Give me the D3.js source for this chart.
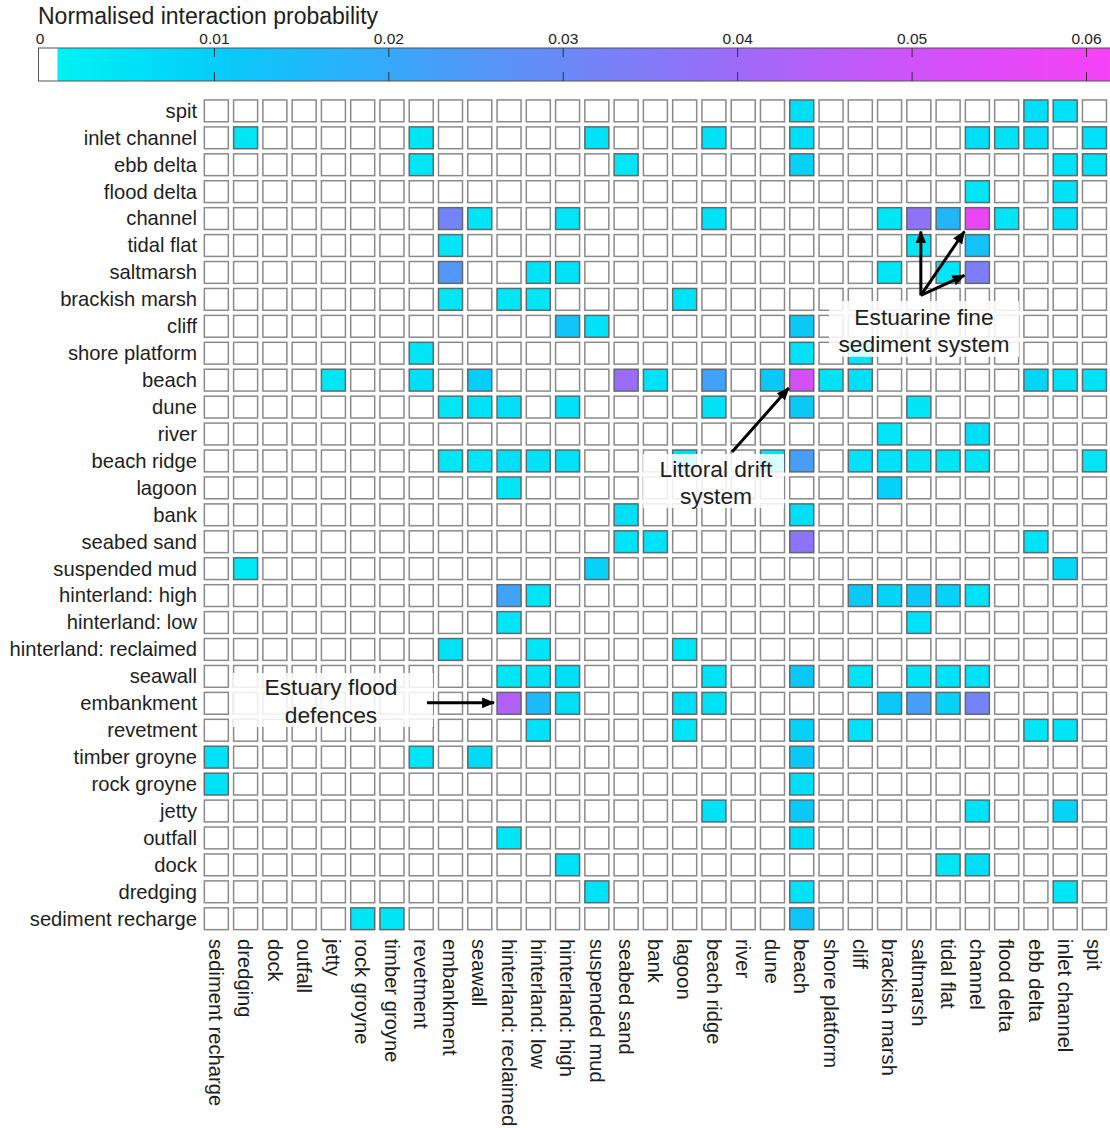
<!DOCTYPE html>
<html><head><meta charset="utf-8">
<script src="https://cdn.jsdelivr.net/npm/d3@7"></script>
<style>
body{margin:0;background:#fff;}
text{font-family:"Liberation Sans", Arial, Helvetica, sans-serif;fill:#1e1e1e;}
</style>
</head><body>
<svg id="chart" width="1110" height="1128"></svg>
<script>
// ---- data ----
const rowLabels = ["spit","inlet channel","ebb delta","flood delta","channel","tidal flat","saltmarsh",
  "brackish marsh","cliff","shore platform","beach","dune","river","beach ridge","lagoon","bank",
  "seabed sand","suspended mud","hinterland: high","hinterland: low","hinterland: reclaimed","seawall",
  "embankment","revetment","timber groyne","rock groyne","jetty","outfall","dock","dredging","sediment recharge"];
const colLabels = rowLabels.slice().reverse();
const colorTicks = [0, 0.01, 0.02, 0.03, 0.04, 0.05, 0.06];
const colorTickLabels = ["0","0.01","0.02","0.03","0.04","0.05","0.06"];
const colorDomain = [0.001,0.005,0.01,0.015,0.02,0.025,0.03,0.035,0.04,0.045,0.05,0.055,0.06,0.0615];
const colorRange = ["#00f2f4","#00e2f7","#06cdf9","#1cbafa","#36a8fa","#5298f9","#6a89f8","#8479f8","#9e6af8","#b85ef8","#cf52f8","#e249f8","#f243f8","#f642f8"];

// [row, column, normalised interaction probability]
const interactions = [
  ["spit","beach",0.006],["spit","ebb delta",0.006],["spit","inlet channel",0.005],
  ["inlet channel","dredging",0.004],["inlet channel","revetment",0.004],["inlet channel","suspended mud",0.005],
  ["inlet channel","beach ridge",0.005],["inlet channel","beach",0.006],["inlet channel","channel",0.006],
  ["inlet channel","flood delta",0.005],["inlet channel","ebb delta",0.006],["inlet channel","spit",0.005],
  ["ebb delta","revetment",0.004],["ebb delta","seabed sand",0.004],["ebb delta","beach",0.009],
  ["ebb delta","inlet channel",0.005],["ebb delta","spit",0.005],
  ["flood delta","channel",0.004],["flood delta","inlet channel",0.005],
  ["channel","embankment",0.032],["channel","seawall",0.004],["channel","hinterland: high",0.004],
  ["channel","beach ridge",0.005],["channel","brackish marsh",0.004],["channel","saltmarsh",0.037],
  ["channel","tidal flat",0.016],["channel","channel",0.058],["channel","flood delta",0.004],["channel","inlet channel",0.005],
  ["tidal flat","embankment",0.004],["tidal flat","saltmarsh",0.004],["tidal flat","channel",0.013],
  ["saltmarsh","embankment",0.025],["saltmarsh","hinterland: low",0.005],["saltmarsh","hinterland: high",0.005],
  ["saltmarsh","brackish marsh",0.004],["saltmarsh","tidal flat",0.004],["saltmarsh","channel",0.034],
  ["brackish marsh","embankment",0.004],["brackish marsh","hinterland: reclaimed",0.004],
  ["brackish marsh","hinterland: low",0.004],["brackish marsh","lagoon",0.005],
  ["cliff","hinterland: high",0.012],["cliff","suspended mud",0.005],["cliff","beach",0.011],
  ["shore platform","revetment",0.004],["shore platform","beach",0.005],["shore platform","cliff",0.004],
  ["beach","jetty",0.004],["beach","revetment",0.006],["beach","seawall",0.010],["beach","seabed sand",0.039],
  ["beach","bank",0.005],["beach","beach ridge",0.022],["beach","dune",0.011],["beach","beach",0.051],
  ["beach","shore platform",0.005],["beach","cliff",0.006],["beach","ebb delta",0.008],
  ["beach","inlet channel",0.005],["beach","spit",0.005],
  ["dune","embankment",0.004],["dune","seawall",0.005],["dune","hinterland: reclaimed",0.006],
  ["dune","hinterland: high",0.005],["dune","beach ridge",0.005],["dune","beach",0.011],["dune","saltmarsh",0.004],
  ["river","brackish marsh",0.004],["river","channel",0.006],
  ["beach ridge","embankment",0.004],["beach ridge","seawall",0.004],["beach ridge","hinterland: reclaimed",0.006],
  ["beach ridge","hinterland: low",0.005],["beach ridge","hinterland: high",0.005],["beach ridge","lagoon",0.006],
  ["beach ridge","dune",0.004],["beach ridge","beach",0.023],["beach ridge","cliff",0.005],
  ["beach ridge","brackish marsh",0.005],["beach ridge","saltmarsh",0.004],["beach ridge","tidal flat",0.004],
  ["beach ridge","channel",0.004],["beach ridge","spit",0.004],
  ["lagoon","hinterland: reclaimed",0.004],["lagoon","brackish marsh",0.009],
  ["bank","seabed sand",0.006],["bank","beach",0.006],
  ["seabed sand","seabed sand",0.005],["seabed sand","bank",0.005],["seabed sand","beach",0.037],["seabed sand","ebb delta",0.005],
  ["suspended mud","dredging",0.003],["suspended mud","suspended mud",0.009],["suspended mud","inlet channel",0.007],
  ["hinterland: high","hinterland: reclaimed",0.022],["hinterland: high","hinterland: low",0.004],
  ["hinterland: high","cliff",0.011],["hinterland: high","brackish marsh",0.008],["hinterland: high","saltmarsh",0.011],
  ["hinterland: high","tidal flat",0.009],["hinterland: high","channel",0.005],
  ["hinterland: low","hinterland: reclaimed",0.004],["hinterland: low","saltmarsh",0.005],
  ["hinterland: reclaimed","embankment",0.005],["hinterland: reclaimed","hinterland: low",0.004],["hinterland: reclaimed","lagoon",0.004],
  ["seawall","hinterland: reclaimed",0.004],["seawall","hinterland: low",0.005],["seawall","hinterland: high",0.006],
  ["seawall","beach ridge",0.005],["seawall","beach",0.011],["seawall","cliff",0.005],["seawall","saltmarsh",0.005],
  ["seawall","tidal flat",0.005],["seawall","channel",0.005],
  ["embankment","hinterland: reclaimed",0.044],["embankment","hinterland: low",0.015],["embankment","hinterland: high",0.006],
  ["embankment","lagoon",0.006],["embankment","beach ridge",0.005],["embankment","brackish marsh",0.011],
  ["embankment","saltmarsh",0.023],["embankment","tidal flat",0.009],["embankment","channel",0.032],
  ["revetment","hinterland: low",0.005],["revetment","lagoon",0.004],["revetment","beach",0.009],
  ["revetment","cliff",0.005],["revetment","ebb delta",0.004],["revetment","inlet channel",0.004],
  ["timber groyne","sediment recharge",0.005],["timber groyne","revetment",0.004],["timber groyne","seawall",0.007],["timber groyne","beach",0.011],
  ["rock groyne","sediment recharge",0.005],["rock groyne","beach",0.006],
  ["jetty","beach ridge",0.005],["jetty","beach",0.011],["jetty","channel",0.005],["jetty","inlet channel",0.008],
  ["outfall","hinterland: reclaimed",0.004],["outfall","beach",0.006],
  ["dock","hinterland: high",0.005],["dock","tidal flat",0.004],["dock","channel",0.006],
  ["dredging","suspended mud",0.005],["dredging","beach",0.005],["dredging","inlet channel",0.004],
  ["sediment recharge","rock groyne",0.004],["sediment recharge","timber groyne",0.004],["sediment recharge","beach",0.012]
];
const title = "Normalised interaction probability";
const noteFine = ["Estuarine fine","sediment system"];
const noteDrift = ["Littoral drift","system"];
const noteFlood = ["Estuary flood","defences"];

// ---- drawing ----
const svg = d3.select("#chart");
const W = 1110;
const x = d3.scaleBand().domain(colLabels).range([201.7, 1109.1]).paddingInner(0.18).paddingOuter(0.09);
const y = d3.scaleBand().domain(rowLabels).range([97.4, 932.2]).paddingInner(0.19).paddingOuter(0.095);
const color = d3.scaleLinear().domain(colorDomain).range(colorRange).clamp(true);
const fillFor = v => (v == null || v < 0.001) ? "#ffffff" : color(v);

const lookup = new Map(interactions.map(d => [d[0] + "|" + d[1], d[2]]));
const cells = [];
rowLabels.forEach(r => colLabels.forEach(c => cells.push({r, c, v: lookup.get(r + "|" + c)})));

svg.append("g").selectAll("rect").data(cells).join("rect")
  .attr("x", d => x(d.c)).attr("y", d => y(d.r))
  .attr("width", x.bandwidth()).attr("height", y.bandwidth())
  .attr("fill", d => fillFor(d.v))
  .attr("stroke", d => d.v ? "#5e6a6c" : "#8a8a8a").attr("stroke-width", 1.5);

// row labels
svg.append("g").selectAll("text").data(rowLabels).join("text")
  .attr("x", 197).attr("y", d => y(d) + y.bandwidth() / 2)
  .attr("dy", "0.34em").attr("text-anchor", "end")
  .style("font-size", "20.2px").text(d => d);

// column labels (rotated)
svg.append("g").selectAll("text").data(colLabels).join("text")
  .attr("transform", d => `translate(${x(d) + x.bandwidth() / 2},939) rotate(90)`)
  .attr("dy", "0.36em").attr("text-anchor", "start")
  .style("font-size", "20.2px").text(d => d);

// colour bar
const cx = d3.scaleLinear().domain([0, 0.06]).range([40, 1086.5]);
const barTop = 48, barBot = 81, barLeft = 38.5, barRight = W;
const defs = svg.append("defs");
const grad = defs.append("linearGradient").attr("id", "cbar")
  .attr("gradientUnits", "userSpaceOnUse")
  .attr("x1", cx(0.001)).attr("x2", barRight).attr("y1", 0).attr("y2", 0);
const vMax = cx.invert(barRight);
d3.range(0, 41).forEach(i => {
  const v = 0.001 + (vMax - 0.001) * i / 40;
  grad.append("stop").attr("offset", (i / 40)).attr("stop-color", color(v));
});
svg.append("rect").attr("x", barLeft).attr("y", barTop).attr("width", cx(0.001) - barLeft)
  .attr("height", barBot - barTop).attr("fill", "#fff");
svg.append("rect").attr("x", cx(0.001)).attr("y", barTop).attr("width", barRight - cx(0.001))
  .attr("height", barBot - barTop).attr("fill", "url(#cbar)");
svg.append("rect").attr("x", barLeft).attr("y", barTop).attr("width", barRight - barLeft + 2)
  .attr("height", barBot - barTop).attr("fill", "none").attr("stroke", "#555").attr("stroke-width", 1);
const tg = svg.append("g");
tg.selectAll("line.t").data(colorTicks.filter(t => t > 0)).join("line")
  .attr("x1", d => cx(d)).attr("x2", d => cx(d)).attr("y1", barTop).attr("y2", barTop + 9)
  .attr("stroke", "#333").attr("stroke-width", 1);
tg.selectAll("line.b").data(colorTicks.filter(t => t > 0)).join("line")
  .attr("x1", d => cx(d)).attr("x2", d => cx(d)).attr("y1", barBot - 9).attr("y2", barBot)
  .attr("stroke", "#333").attr("stroke-width", 1);
tg.selectAll("text").data(colorTicks).join("text")
  .attr("x", d => cx(d)).attr("y", 43.5).attr("text-anchor", "middle")
  .style("font-size", "15.5px").text((d, i) => colorTickLabels[i]);
svg.append("text").attr("x", 38).attr("y", 23.5).style("font-size", "23px").text(title);

// annotations
defs.append("marker").attr("id", "ah").attr("viewBox", "0 0 12 10").attr("refX", 11).attr("refY", 5)
  .attr("markerWidth", 13).attr("markerHeight", 11).attr("markerUnits", "userSpaceOnUse").attr("orient", "auto")
  .append("path").attr("d", "M0,0 L12,5 L0,10 Z").attr("fill", "#000");

const cxm = c => x(c) + x.bandwidth() / 2;
const cym = r => y(r) + y.bandwidth() / 2;
const ann = svg.append("g");
function noteBox(x0, y0, x1, y1) {
  ann.append("rect").attr("x", x0).attr("y", y0).attr("width", x1 - x0).attr("height", y1 - y0)
    .attr("fill", "#fff").attr("fill-opacity", 0.85);
}
function noteText(lines, xc, y1, gap) {
  lines.forEach((t, i) => ann.append("text").attr("x", xc).attr("y", y1 + i * gap)
    .attr("text-anchor", "middle").style("font-size", "22.8px").text(t));
}
function arrow(x1, y1, x2, y2) {
  ann.append("line").attr("x1", x1).attr("y1", y1).attr("x2", x2).attr("y2", y2)
    .attr("stroke", "#000").attr("stroke-width", 3).attr("marker-end", "url(#ah)");
}

// Estuarine fine sediment system
noteBox(829, 301, 1019, 357);
noteText(noteFine, 924, 325, 26.5);
const ox = cxm("saltmarsh") + 2, oy = cym("brackish marsh") - 4;
arrow(ox, oy, cxm("saltmarsh") + 2, y("channel") + y.bandwidth() + 2);
arrow(ox, oy, x("channel") - 1, y("channel") + y.bandwidth() + 2);
arrow(ox, oy, x("channel") - 1, cym("saltmarsh") + 3);

// Littoral drift system
noteBox(643, 454, 784, 508);
noteText(noteDrift, 716, 477, 26.5);
arrow(732, 452, x("beach") - 1, y("beach") + y.bandwidth() - 3);

// Estuary flood defences
noteBox(233, 673, 433, 727);
noteText(noteFlood, 331, 695, 28);
arrow(427, cym("embankment") - 0.5, x("hinterland: reclaimed") - 3, cym("embankment") - 0.5);
</script>
</body></html>
